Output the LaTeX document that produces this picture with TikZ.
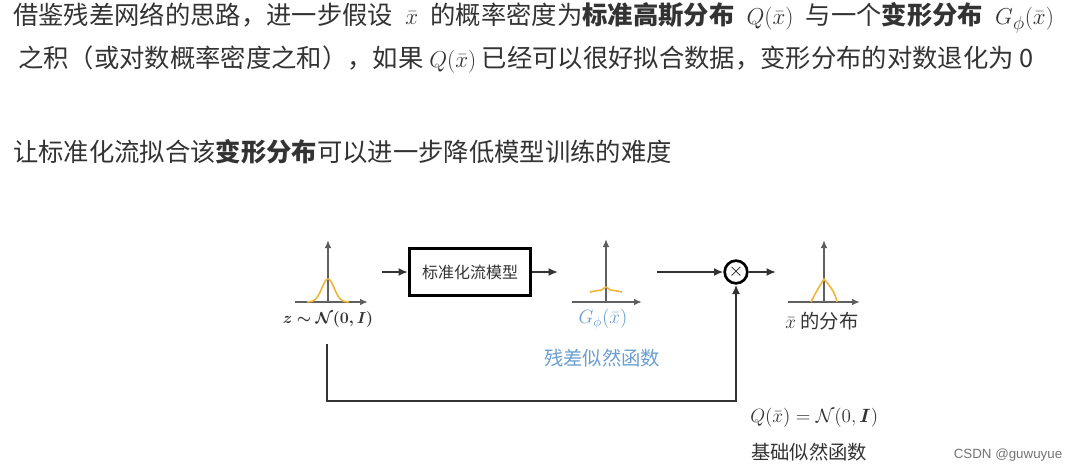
\documentclass[tikz,border=0pt]{standalone}
\usepackage{amsmath}
\usepackage{amssymb}
\usepackage{bm}
\usepackage{fontspec}
\newfontfamily\cjk{Noto Sans CJK SC}
\newfontfamily\wmfont{Liberation Sans}
\usepackage{xcolor}
\usepackage{tikz}
\usetikzlibrary{positioning, arrows.meta, calc}

\definecolor{txtgray}{HTML}{333333}
\definecolor{axisgray}{HTML}{606060}
\definecolor{pdforange}{HTML}{F0B53C}
\definecolor{capblue}{HTML}{6A9FD3}
\newcommand{\mgap}{\hspace{0.48em}}

\begin{document}
\begin{tikzpicture}[
    x=0.75pt, y=-0.75pt,
    >={Latex[length=7pt,width=6pt]},
    headline/.style={inner sep=0pt, anchor=west, text=txtgray, font=\cjk\fontsize{19}{22}\selectfont},
    plotaxis/.style={draw=axisgray, line width=1.4pt, -{Latex[length=6pt,width=5pt]}},
    density/.style={draw=pdforange, line width=1.2pt},
    block/.style={rectangle, draw=black, line width=2pt, minimum width=91pt, minimum height=35pt, align=center, text=txtgray, font=\cjk\fontsize{12}{14}\selectfont},
    mult/.style={circle, draw=black, line width=2pt, minimum size=17pt, inner sep=0pt, font=\Large},
    conn/.style={draw=txtgray, line width=1.4pt, ->},
    caption/.style={inner sep=0pt, text=txtgray, font=\cjk\fontsize{14.5}{17}\selectfont},
    bluecap/.style={inner sep=0pt, text=capblue, font=\cjk\fontsize{14.5}{17}\selectfont},
    wm/.style={inner sep=0pt, text=black!55, font=\wmfont\fontsize{10}{12}\selectfont}
]
\useasboundingbox[fill=white] (0,0) rectangle (1072,472);

% text above the diagram
\node[headline] (line1) at (13,18) {借鉴残差网络的思路，进一步假设\mgap$\bar{x}$\mgap 的概率密度为\textbf{标准高斯分布}\mgap$Q(\bar{x})$\mgap 与一个\textbf{变形分布}\mgap$G_{\phi}(\bar{x})$};
\node[headline] (line2) at (18,60) {之积（或对数概率密度之和），如果 $Q(\bar{x})$ 已经可以很好拟合数据，变形分布的对数退化为 0};
\node[headline] (line3) at (13,152) {让标准化流拟合该\textbf{变形分布}可以进一步降低模型训练的难度};

% small density plots
\coordinate (zo) at (328,302);
\draw[plotaxis] ($(zo)+(-33,0)$) -- ($(zo)+(40,0)$);
\draw[plotaxis] (zo) -- ($(zo)+(0,-62)$);
\draw[density] plot[domain=-21:21, samples=50, smooth] ({328+\x},{302-23*exp(-\x*\x/75)});

\coordinate (go) at (606,302);
\draw[plotaxis] ($(go)+(-34,0)$) -- ($(go)+(36,0)$);
\draw[plotaxis] (go) -- ($(go)+(0,-63)$);
\draw[density] plot[domain=-16:16, samples=40, smooth] ({606+\x},{290-3*exp(-\x*\x/8)+0.008*\x*\x});

\coordinate (xo) at (824,302);
\draw[plotaxis] ($(xo)+(-36,0)$) -- ($(xo)+(36,0)$);
\draw[plotaxis] (xo) -- ($(xo)+(0,-62)$);
\draw[density] (811,302) .. controls (816,292) .. (824,279) .. controls (830,286) and (835,292) .. (837,302);

% blocks
\node[block] (flow) at (470,272) {标准化流模型};
\node[mult] (mul) at (736,272) {$\times$};

% labels
\node[caption, font=\cjk\fontsize{13}{15}\selectfont] (zlab) at (328,319) {$\bm{z\sim\mathcal{N}(0,I)}$};
\node[bluecap] (glab) at (603,319) {$G_{\phi}(\bar{x})$};
\node[bluecap] (gname) at (602,358) {残差似然函数};
\node[caption] (xlab) at (822,321) {$\bar{x}$ 的分布};
\node[caption, anchor=west] (qlab) at (750,418) {$Q(\bar{x}) = \mathcal{N}(0,\bm{I})$};
\node[caption, anchor=west] (qname) at (751,452) {基础似然函数};
\node[wm] (mark) at (1008,455) {CSDN @guwuyue};

% connectors
\coordinate (zout) at (382,272);
\coordinate (gin) at (558,272);
\coordinate (gout) at (657,272);
\coordinate (xin) at (776,272);
\coordinate (fbtop) at (327,344);
\coordinate (fbturn) at (327,401);
\draw[conn] (zout) -- (flow.west);
\draw[conn] (flow.east) -- (gin);
\draw[conn] (gout) -- (mul.west);
\draw[conn] (mul.east) -- (xin);
\draw[conn] (fbtop) -- (fbturn) -| (mul.south);
\end{tikzpicture}
\end{document}
